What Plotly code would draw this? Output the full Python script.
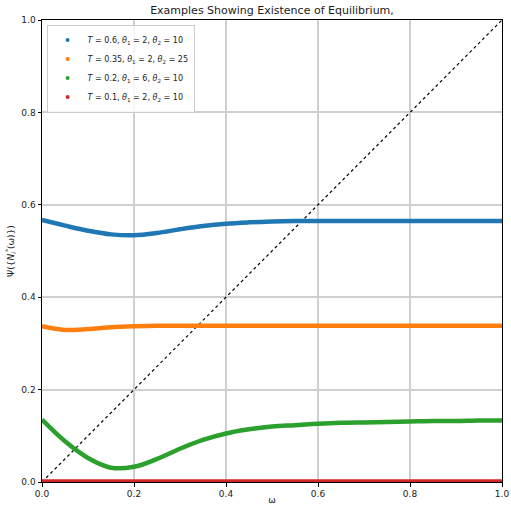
import plotly.graph_objects as go

x_vals = [0.0, 0.05, 0.1, 0.15, 0.2, 0.25, 0.3, 0.35, 0.4, 0.45, 0.5,
          0.55, 0.6, 0.65, 0.7, 0.75, 0.8, 0.85, 0.9, 0.95, 1.0]

blue_vals = [0.567, 0.555, 0.544, 0.536, 0.534, 0.539, 0.547, 0.554, 0.559, 0.562, 0.564,
             0.565, 0.565, 0.565, 0.565, 0.565, 0.565, 0.565, 0.565, 0.565, 0.565]
orange_vals = [0.337, 0.329, 0.331, 0.335, 0.337, 0.338, 0.338, 0.338, 0.338, 0.338, 0.338,
               0.338, 0.338, 0.338, 0.338, 0.338, 0.338, 0.338, 0.338, 0.338, 0.338]
green_vals = [0.135, 0.088, 0.052, 0.031, 0.033, 0.050, 0.072, 0.091, 0.105, 0.114, 0.120,
              0.123, 0.126, 0.128, 0.129, 0.130, 0.131, 0.132, 0.132, 0.133, 0.133]
red_vals = [0.001] * len(x_vals)

series_names = [
    "<i>T</i> = 0.6, <i>θ</i><sub>1</sub> = 2, <i>θ</i><sub>2</sub> = 10",
    "<i>T</i> = 0.35, <i>θ</i><sub>1</sub> = 2, <i>θ</i><sub>2</sub> = 25",
    "<i>T</i> = 0.2, <i>θ</i><sub>1</sub> = 6, <i>θ</i><sub>2</sub> = 10",
    "<i>T</i> = 0.1, <i>θ</i><sub>1</sub> = 2, <i>θ</i><sub>2</sub> = 10",
]
colors = ["#1f77b4", "#ff7f0e", "#2ca02c", "#d62728"]
series = [blue_vals, orange_vals, green_vals, red_vals]

fig = go.Figure()

# diagonal reference line
fig.add_trace(go.Scatter(x=[0, 1], y=[0, 1], mode="lines",
                         line=dict(color="black", width=1.2, dash="dot"),
                         showlegend=False, hoverinfo="skip"))

for name, col, ys in zip(series_names, colors, series):
    fig.add_trace(go.Scatter(x=x_vals, y=ys, mode="lines",
                             line=dict(color=col, width=4.5, shape="spline", smoothing=1.0),
                             showlegend=False, legendgroup=name))
    fig.add_trace(go.Scatter(x=[None], y=[None], mode="markers", name=name,
                             marker=dict(color=col, size=4, symbol="circle"),
                             legendgroup=name))

axis_common = dict(
    range=[0, 1], showgrid=True, gridcolor="#cfcfcf", gridwidth=1.5,
    showline=True, linecolor="black", linewidth=1, mirror=True,
    ticks="outside", ticklen=3.5, tickcolor="black",
    tickfont=dict(size=9, color="#222"), zeroline=False, automargin=False,
    tickvals=[0, 0.2, 0.4, 0.6, 0.8, 1.0],
    ticktext=["0.0", "0.2", "0.4", "0.6", "0.8", "1.0"],
)

fig.update_layout(
    width=511, height=505,
    margin=dict(l=42, r=9, t=20, b=23),
    paper_bgcolor="white", plot_bgcolor="white",
    font=dict(family="DejaVu Sans", size=9, color="#222"),
    title=dict(text="Examples Showing Existence of Equilibrium,", x=0.5, xanchor="center",
               xref="paper", yref="container", y=1 - 10 / 505, yanchor="middle",
               pad=dict(t=0, b=0), font=dict(size=11, color="#222")),
    xaxis=dict(**axis_common, title=dict(text="ω", standoff=1, font=dict(size=9))),
    yaxis=dict(**axis_common,
               title=dict(text="Ψ({<i>N</i><sub><i>i</i></sub><sup>*</sup>(ω)})", standoff=5,
                          font=dict(size=9))),
    legend=dict(x=0.01, y=0.99, xanchor="left", yanchor="top",
                bgcolor="rgba(255,255,255,0.8)", bordercolor="#cccccc", borderwidth=1,
                font=dict(size=8), tracegroupgap=0, itemwidth=30),
    showlegend=True,
)

fig.write_html("out.html", config={"displayModeBar": False},
               post_script="document.body.style.margin='0';")
